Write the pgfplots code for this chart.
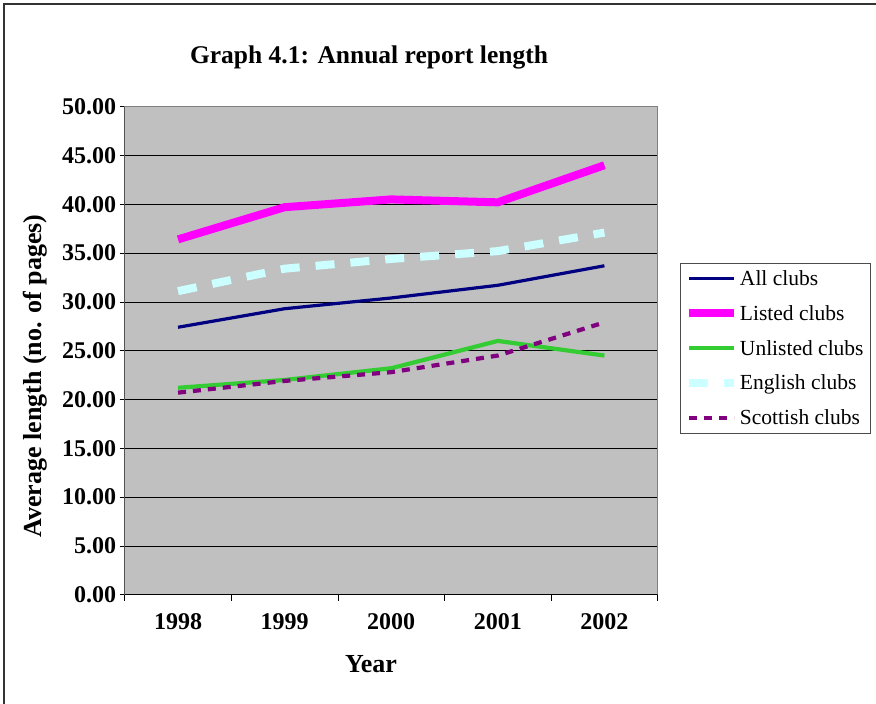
\documentclass[border=0pt]{standalone}
\usepackage{pgfplots}
\pgfplotsset{compat=1.18}
\usepackage{fontspec}
\setmainfont{Liberation Serif}
\definecolor{plotbg}{HTML}{C0C0C0}
\definecolor{allc}{HTML}{000080}
\definecolor{listc}{HTML}{FF00FF}
\definecolor{unlc}{HTML}{33CC33}
\definecolor{engc}{HTML}{CCFFFF}
\definecolor{scoc}{HTML}{800080}
\begin{document}
\begin{tikzpicture}[x=1pt,y=1pt]
\useasboundingbox (0,0) rectangle (876,704);
\fill[white] (0,0) rectangle (876,704);
\draw[line width=1.5pt, black!80] (4,0) -- (4,700) -- (876,700);
\begin{axis}[
  at={(117,112)}, anchor=south west,
  scale only axis, width=533pt, height=488pt,
  xmin=0.5, xmax=5.5, ymin=0, ymax=50,
  axis background/.style={fill=plotbg},
  axis line style={draw=black!50, line width=1.5pt},
  xtick={1,2,3,4,5},
  xticklabels={1998,1999,2000,2001,2002},
  major x tick style={draw=none},
  minor xtick={0.5,1.5,2.5,3.5,4.5,5.5},
  minor tick length=6pt,
  minor x tick style={black, line width=0.6pt},
  ytick={0,5,...,50},
  major tick length=5pt,
  tick align=outside,
  major y tick style={black, line width=0.6pt},
  ymajorgrids, major grid style={black, line width=0.7pt},
  yticklabel style={font=\fontsize{24}{26}\selectfont\bfseries, /pgf/number format/.cd, fixed, fixed zerofill, precision=2, assume math mode=true},
  xticklabel style={font=\fontsize{24}{26}\selectfont\bfseries, yshift=-10pt},
  xtick pos=bottom, ytick pos=left,
  legend cell align=left,
  legend style={at={(rel axis cs:1.041,0.68)}, anchor=north west, draw=black!70, line width=0.8pt,
    font=\fontsize{21.5}{24}\selectfont, row sep=14.5pt, inner sep=5pt},
  legend image code/.code={\draw[#1] (0pt,0pt) -- (45pt,0pt);},
]
\addplot[allc, line width=3.2pt] coordinates {(1,27.4) (2,29.3) (3,30.4) (4,31.7) (5,33.7)};
\addlegendentry{All clubs}
\addplot[listc, line width=8pt] coordinates {(1,36.4) (2,39.7) (3,40.5) (4,40.2) (5,44.0)};
\addlegendentry{Listed clubs}
\addplot[unlc, line width=4.2pt] coordinates {(1,21.2) (2,22.0) (3,23.2) (4,26.0) (5,24.5)};
\addlegendentry{Unlisted clubs}
\addplot[engc, line width=8pt, dash pattern=on 19pt off 16pt] coordinates {(1,31.1) (2,33.4) (3,34.4) (4,35.2) (5,37.1)};
\addlegendentry{English clubs}
\addplot[scoc, line width=4.2pt, dash pattern=on 8pt off 7pt] coordinates {(1,20.7) (2,21.9) (3,22.8) (4,24.5) (5,27.9)};
\addlegendentry{Scottish clubs}
\draw[black, line width=1pt] (rel axis cs:0,1) -- (rel axis cs:0,0) -- (rel axis cs:1,0);
\end{axis}
\node[font=\fontsize{25.5}{28}\selectfont\bfseries] at (369,647) {Graph 4.1: Annual report length};
\node[font=\fontsize{26}{28}\selectfont\bfseries] at (371,40) {Year};
\node[font=\fontsize{26}{28}\selectfont\bfseries, rotate=90] at (35,328) {Average length (no. of pages)};
\end{tikzpicture}
\end{document}
